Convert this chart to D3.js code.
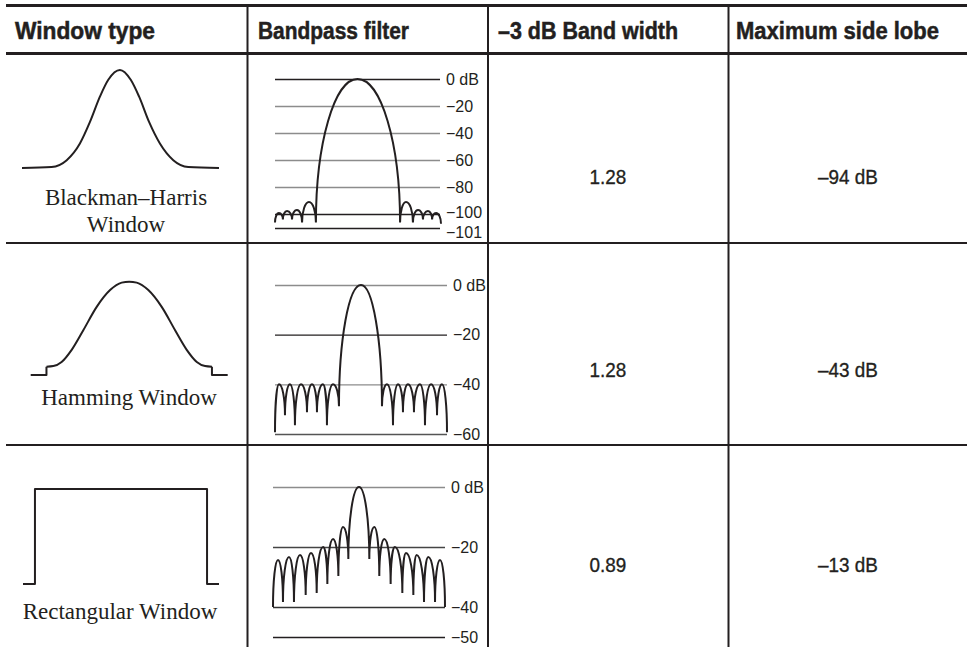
<!DOCTYPE html>
<html><head><meta charset="utf-8">
<script src="https://cdn.jsdelivr.net/npm/d3@7"></script>
<style>body{margin:0;background:#fff} svg{display:block}</style>
</head><body>
<svg id="c" width="967" height="647"></svg>
<script>
// ---------------- DATA ----------------
const headers = ["Window type", "Bandpass filter", "–3 dB Band width", "Maximum side lobe"];
const windowNames = [["Blackman–Harris", "Window"], ["Hamming Window"], ["Rectangular Window"]];
const bandWidths = ["1.28", "1.28", "0.89"];
const sideLobes = ["–94 dB", "–43 dB", "–13 dB"];

// window shapes: [position across window 0..1, relative amplitude 0..1]
const bhWindow = [[0,0],[0.15,0.01],[0.227,0.08],[0.294,0.25],[0.345,0.47],[0.396,0.73],[0.438,0.9],[0.497,1],[0.552,0.9],[0.594,0.73],[0.645,0.47],[0.70,0.25],[0.768,0.08],[0.844,0.01],[1,0]];
const hammingWindow = [[0,0],[0.08,0],[0.08,0.089],[0.115,0.096],[0.157,0.14],[0.208,0.27],[0.267,0.48],[0.335,0.73],[0.403,0.91],[0.462,0.99],[0.5,1],[0.538,0.99],[0.597,0.91],[0.665,0.73],[0.733,0.48],[0.792,0.27],[0.843,0.14],[0.885,0.096],[0.92,0.089],[0.92,0],[1,0]];
const rectWindow = [[0,0],[0.061,0],[0.061,1],[0.939,1],[0.939,0],[1,0]];

// filter responses: alternating null / peak points [frequency position 0..100, level dB]
const bhResponse = [[0,-100.6],[2.4,-99.3],[4.8,-100.4],[7.3,-97.8],[10.3,-100.4],[13.3,-97.0],[16.4,-100.6],[20.6,-91.1],[24.8,-100.6],[50,0],[75.8,-100.6],[79.4,-91.1],[83.6,-100.6],[86.7,-97.0],[89.7,-100.4],[92.7,-97.8],[95.2,-100.4],[97.6,-99.3],[100.6,-100.7]];
const hammingResponse = [[0,-59.3],[2.3,-40],[5.8,-52.4],[8.7,-40],[11.6,-56.5],[15.1,-40],[18.6,-51.2],[21.5,-40],[24.4,-51.2],[27.9,-40],[30.2,-56.5],[33.7,-40],[37.2,-48.8],[50,0],[62.2,-48.8],[65.1,-40],[68.6,-56.5],[71.5,-40],[74.4,-51.2],[77.3,-40],[80.8,-51.2],[84.3,-40],[87.2,-56.5],[90.7,-40],[94.2,-52.4],[97.1,-40],[100,-59.3]];
const rectResponse = [[0,-40],[2.9,-24.3],[5.8,-38.3],[9.3,-23.3],[12.2,-38.3],[15.7,-22.7],[19.0,-36],[22.1,-22],[25.4,-35.3],[29.1,-20],[31.6,-32.3],[34.9,-17.3],[38.0,-29.7],[40.7,-13.3],[43.8,-24],[50,0],[56,-24],[58.9,-13.3],[61.8,-29.7],[64.7,-17.3],[68.4,-32.3],[70.9,-20],[75.2,-35.3],[77.3,-22],[81.6,-36],[83.5,-22.7],[87.8,-38.3],[90.3,-23.3],[94.2,-38.3],[97.1,-24.3],[100,-40]];

const bhTicks = [0, -20, -40, -60, -80, -100, -101];
const bhTickLabels = ["0 dB", "−20", "−40", "−60", "−80", "−100", "−101"];
const hammingTicks = [0, -20, -40, -60];
const hammingTickLabels = ["0 dB", "−20", "−40", "−60"];
const rectTicks = [0, -20, -40, -50];
const rectTickLabels = ["0 dB", "−20", "−40", "−50"];

// ---------------- LAYOUT / STYLE ----------------
const INK = "#231f20";
const GRAY = "#8c8c8c";
const svg = d3.select("#c");

const rows = [
  { win: bhWindow, winX: [22, 219], winY: [168, 70], smooth: "all",
    name: windowNames[0], nameX: 126, nameY: [205, 232],
    resp: bhResponse, fx: [275, 440], fyDomain: [0, -100, -101], fyRange: [79, 214, 228],
    ticks: bhTicks, labels: bhTickLabels, tickColors: [INK, GRAY, GRAY, GRAY, GRAY, INK, INK],
    labelShift: [0, 0, 0, 0, 0, -2, 4], valY: 184 },
  { win: hammingWindow, winX: [30.7, 227.7], winY: [375, 281.7], smooth: "step",
    name: windowNames[1], nameX: 129, nameY: [405],
    resp: hammingResponse, fx: [275, 447], fyDomain: [0, -60], fyRange: [285, 434],
    ticks: hammingTicks, labels: hammingTickLabels, tickColors: [GRAY, INK, GRAY, "#555"],
    labelShift: [0, 0, 0, 0], valY: 377 },
  { win: rectWindow, winX: [23, 219], winY: [584, 489], smooth: "none",
    name: windowNames[2], nameX: 120, nameY: [619],
    resp: rectResponse, fx: [273, 445], fyDomain: [0, -50], fyRange: [487, 637],
    ticks: rectTicks, labels: rectTickLabels, tickColors: [GRAY, "#444", "#333", INK],
    labelShift: [0, 0, 0, 0], valY: 572 }
];

// table rules
const g = svg.append("g");
g.append("line").attr("x1", 6).attr("x2", 967).attr("y1", 5.5).attr("y2", 5.5).attr("stroke", INK).attr("stroke-width", 3);
g.append("line").attr("x1", 6).attr("x2", 967).attr("y1", 53.5).attr("y2", 53.5).attr("stroke", INK).attr("stroke-width", 3);
[243, 445].forEach(y => g.append("line").attr("x1", 6).attr("x2", 967).attr("y1", y).attr("y2", y).attr("stroke", INK).attr("stroke-width", 2));
[247.5, 488, 728.5].forEach(x => g.append("line").attr("x1", x).attr("x2", x).attr("y1", 4).attr("y2", 647).attr("stroke", INK).attr("stroke-width", 2));

// headers (condensed heavy look)
const headerX = [15, 258, 498, 736];
const headerW = [140, 151, 180, 203];
headers.forEach((h, i) => svg.append("text").attr("x", headerX[i]).attr("y", 39)
  .attr("font-family", "'Liberation Sans', Arial, sans-serif").attr("font-weight", "bold")
  .attr("font-size", 23.5).attr("fill", INK).attr("stroke", INK).attr("stroke-width", 0.5)
  .attr("textLength", headerW[i]).attr("lengthAdjust", "spacingAndGlyphs").text(h));

// rows
rows.forEach((r, i) => {
  // window shape
  const wx = d3.scaleLinear().domain([0, 1]).range(r.winX);
  const wy = d3.scaleLinear().domain([0, 1]).range(r.winY);
  const lin = d3.line().x(d => wx(d[0])).y(d => wy(d[1]));
  const smooth = d3.line().x(d => wx(d[0])).y(d => wy(d[1])).curve(d3.curveMonotoneX);
  const wg = svg.append("g").attr("fill", "none").attr("stroke", INK).attr("stroke-width", 2)
    .attr("stroke-linejoin", "round").attr("stroke-linecap", "butt");
  if (r.smooth === "all") {
    wg.append("path").attr("d", smooth(r.win));
  } else if (r.smooth === "step") {
    wg.append("path").attr("d", lin(r.win.slice(0, 3)));
    wg.append("path").attr("d", smooth(r.win.slice(2, -2)));
    wg.append("path").attr("d", lin(r.win.slice(-3)));
  } else {
    wg.append("path").attr("d", lin(r.win));
  }
  r.name.forEach((t, j) => svg.append("text").attr("x", r.nameX).attr("y", r.nameY[j])
    .attr("text-anchor", "middle").attr("font-family", "'Liberation Serif', 'Times New Roman', serif")
    .attr("font-size", 23).attr("fill", INK).text(t));

  // filter response
  const fx = d3.scaleLinear().domain([0, 100]).range(r.fx);
  const fy = d3.scaleLinear().domain(r.fyDomain).range(r.fyRange);
  const axis = d3.axisRight(fy).tickValues(r.ticks).tickSize(-(r.fx[1] - r.fx[0]))
    .tickPadding(6).tickFormat((d, k) => r.labels[k]);
  const ag = svg.append("g").attr("transform", `translate(${r.fx[1]},0)`).call(axis);
  ag.select(".domain").remove();
  ag.selectAll(".tick line").attr("stroke", (d, k) => r.tickColors[k]).attr("stroke-width", 1.3);
  ag.selectAll(".tick text").attr("font-family", "'Liberation Sans', Arial, sans-serif")
    .attr("font-size", 16).attr("fill", INK)
    .attr("y", (d, k) => r.labelShift[k]);

  const k = 0.5523;
  const p = d3.path();
  r.resp.forEach((d, idx) => {
    const x = fx(d[0]), y = fy(d[1]);
    if (idx === 0) { p.moveTo(x, y); return; }
    const px = fx(r.resp[idx - 1][0]), py = fy(r.resp[idx - 1][1]);
    if (y < py) p.bezierCurveTo(px, py - k * (py - y), x - k * (x - px), y, x, y);
    else p.bezierCurveTo(px + k * (x - px), py, x, y - k * (y - py), x, y);
  });
  svg.append("path").attr("d", p.toString()).attr("fill", "none").attr("stroke", INK)
    .attr("stroke-width", 2).attr("stroke-linejoin", "miter").attr("stroke-miterlimit", 4);

  // values (slightly condensed)
  [[608, bandWidths[i]], [848, sideLobes[i]]].forEach(([vx, txt]) =>
    svg.append("text").attr("transform", `translate(${vx},${r.valY}) scale(0.9,1)`)
      .attr("text-anchor", "middle")
      .attr("font-family", "'Liberation Sans', Arial, sans-serif").attr("font-size", 21)
      .attr("fill", INK).attr("stroke", INK).attr("stroke-width", 0.35).text(txt));
});
</script>
</body></html>
